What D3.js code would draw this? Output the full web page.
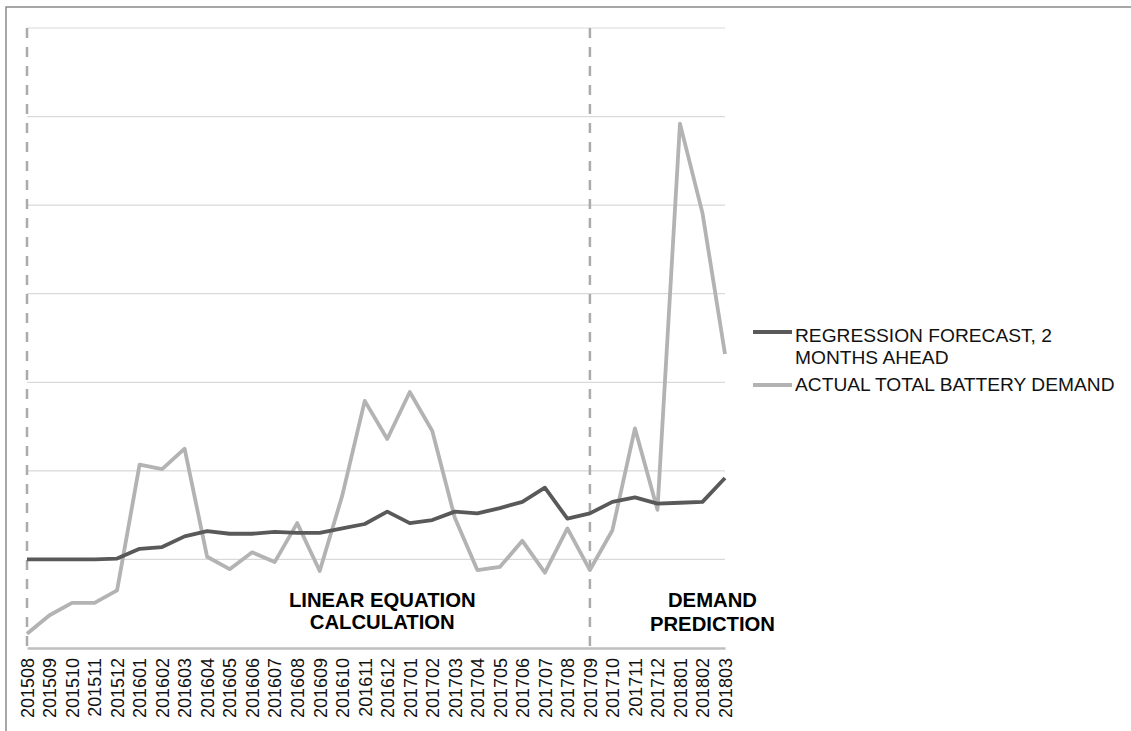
<!DOCTYPE html>
<html>
<head>
<meta charset="utf-8">
<script src="https://cdn.jsdelivr.net/npm/d3@7"></script>
<style>
  html, body { margin: 0; padding: 0; background: #fff; }
  svg { display: block; font-family: "Liberation Sans", Arial, sans-serif; }
</style>
</head>
<body>
<svg id="chart" width="1131" height="731"></svg>
<script>
const categories = ["201508","201509","201510","201511","201512",
  "201601","201602","201603","201604","201605","201606","201607","201608","201609","201610","201611","201612",
  "201701","201702","201703","201704","201705","201706","201707","201708","201709","201710","201711","201712",
  "201801","201802","201803"];
const forecast = [1.0,1.0,1.0,1.0,1.01,
  1.12,1.14,1.26,1.32,1.29,1.29,1.31,1.30,1.30,1.35,1.40,1.54,
  1.41,1.445,1.54,1.52,1.58,1.65,1.81,1.46,1.52,1.65,1.70,1.63,
  1.64,1.65,1.92];
const actual = [0.16,0.37,0.51,0.51,0.65,
  2.07,2.02,2.25,1.03,0.89,1.08,0.97,1.41,0.87,1.72,2.79,2.36,
  2.89,2.45,1.47,0.88,0.915,1.21,0.85,1.35,0.88,1.33,2.48,1.56,
  5.92,4.91,3.32];
const gridValues = [1,2,3,4,5,6,7];
const dividers = ["201508","201709"];
const seriesNames = ["REGRESSION FORECAST, 2|MONTHS AHEAD", "ACTUAL TOTAL BATTERY DEMAND"];
const annotations = [
  {at: "201612", lines: ["LINEAR EQUATION", "CALCULATION"]},
  {at: "201802", lines: ["DEMAND", "PREDICTION"]}
];

const svg = d3.select("#chart");
const x = d3.scalePoint().domain(categories).range([27, 725]);
const y = d3.scaleLinear().domain([0, 7]).range([648, 28]);

// outer border
svg.append("rect").attr("x", 6).attr("y", 7).attr("width", 1300).attr("height", 900)
  .attr("fill", "none").attr("stroke", "#8a8a8a").attr("stroke-width", 1.5);

// gridlines
svg.append("g").selectAll("line").data(gridValues).join("line")
  .attr("x1", x.range()[0]).attr("x2", x.range()[1])
  .attr("y1", d => y(d)).attr("y2", d => y(d))
  .attr("stroke", "#d9d9d9").attr("stroke-width", 1.2);

// x axis
const xAxis = svg.append("g").attr("transform", `translate(0,${y(0)})`)
  .call(d3.axisBottom(x).tickSize(0).tickPadding(0));
xAxis.select(".domain").attr("stroke", "#bfbfbf").attr("stroke-width", 2.5);
xAxis.selectAll(".tick text")
  .attr("transform", "translate(0,10) rotate(-90)")
  .attr("text-anchor", "end")
  .attr("x", 0).attr("y", 0).attr("dy", "0.35em")
  .attr("font-size", 18).attr("fill", "#111")
  .style("font-family", "'Liberation Sans', Arial, sans-serif");

// dashed dividers
svg.append("g").selectAll("line").data(dividers).join("line")
  .attr("x1", d => x(d)).attr("x2", d => x(d))
  .attr("y1", y(7)).attr("y2", y(0) + 5)
  .attr("stroke", "#ababab").attr("stroke-width", 2.5).attr("stroke-dasharray", "10,9");

// lines
const line = d3.line().x((d, i) => x(categories[i])).y(d => y(d));
svg.append("path").datum(actual).attr("d", line)
  .attr("fill", "none").attr("stroke", "#b3b3b3").attr("stroke-width", 3.8).attr("stroke-linejoin", "round");
svg.append("path").datum(forecast).attr("d", line)
  .attr("fill", "none").attr("stroke", "#595959").attr("stroke-width", 3.8).attr("stroke-linejoin", "round");

// annotations
const annotOffsets = [-5, 10];
const annotBase = [[607, 629], [607, 631]];
annotations.forEach((a, k) => {
  const t = svg.append("text").attr("text-anchor", "middle")
    .attr("font-size", 20.3).attr("font-weight", "bold").attr("fill", "#000");
  a.lines.forEach((l, i) => {
    t.append("tspan").attr("x", x(a.at) + annotOffsets[k])
      .attr("y", annotBase[k][i]).text(l);
  });
});

// legend
const legendColors = ["#595959", "#b3b3b3"];
const legendY = [332, 385];
const legendBase = [342, 391];
seriesNames.forEach((name, i) => {
  svg.append("line").attr("x1", 753).attr("x2", 792)
    .attr("y1", legendY[i]).attr("y2", legendY[i])
    .attr("stroke", legendColors[i]).attr("stroke-width", 3.8);
  const t = svg.append("text").attr("font-size", 19.2).attr("fill", "#111");
  name.split("|").forEach((l, j) => {
    t.append("tspan").attr("x", 795).attr("y", legendBase[i] + j * 22).text(l);
  });
});
</script>
</body>
</html>
